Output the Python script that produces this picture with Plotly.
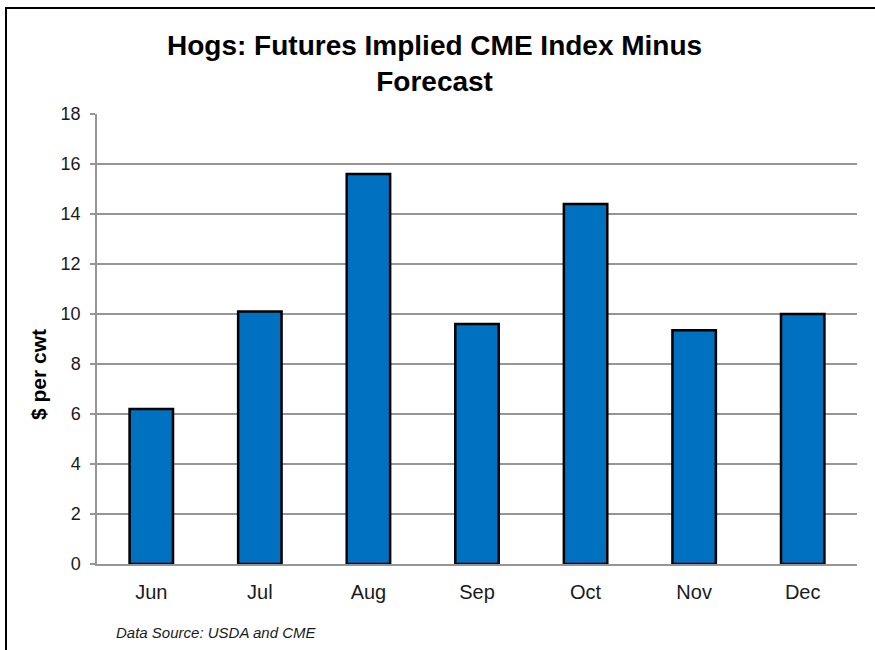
import plotly.graph_objects as go

months = ["Jun", "Jul", "Aug", "Sep", "Oct", "Nov", "Dec"]
values = [6.2, 10.1, 15.6, 9.6, 14.4, 9.35, 10.0]
y_ticks = [0, 2, 4, 6, 8, 10, 12, 14, 16, 18]

W, H = 875, 650
L, R, T, B = 97, 18, 114, 86
pw, ph = W - L - R, H - T - B

def px_x(x):
    return (x - L) / pw

def px_y(y):
    return (H - B - y) / ph

fig = go.Figure()
fig.add_trace(go.Bar(
    x=months, y=values,
    marker=dict(color="#0070C0", line=dict(color="#000000", width=2.5)),
    width=0.4,
))

font_family = "Liberation Sans, Arial, sans-serif"

fig.update_layout(
    width=W, height=H,
    margin=dict(l=L, r=R, t=T, b=B, pad=0),
    paper_bgcolor="white", plot_bgcolor="white",
    showlegend=False,
    font=dict(family=font_family, color="#1a1a1a"),
    xaxis=dict(
        showline=True, linecolor="#969696", linewidth=1.5,
        showgrid=False, ticks="", tickfont=dict(size=20, color="#1a1a1a"),
        ticklabelstandoff=9,
    ),
    yaxis=dict(
        range=[0, 18], tickvals=y_ticks, showgrid=True, gridcolor="#969696", gridwidth=1.5,
        showline=True, linecolor="#969696", linewidth=1.5,
        ticks="outside", ticklen=5, tickcolor="#969696", tickwidth=1.5,
        tickfont=dict(size=18, color="#1a1a1a"), zeroline=False,
        ticklabelstandoff=6,
    ),
    annotations=[
        dict(text="<b>Hogs: Futures Implied CME Index Minus<br>Forecast</b>",
             xref="paper", yref="paper", x=px_x(434), y=px_y(63),
             xanchor="center", yanchor="middle", showarrow=False,
             font=dict(size=28, color="#000000", family=font_family)),
        dict(text="<b>$ per cwt</b>", textangle=-90,
             xref="paper", yref="paper", x=px_x(38), y=px_y(374),
             xanchor="center", yanchor="middle", showarrow=False,
             font=dict(size=21, color="#000000", family=font_family)),
        dict(text="<i>Data Source: USDA and CME</i>",
             xref="paper", yref="paper", x=px_x(114), y=px_y(632),
             xanchor="left", yanchor="middle", showarrow=False,
             font=dict(size=15, color="#1a1a1a", family=font_family)),
    ],
    shapes=[
        dict(type="rect", xref="paper", yref="paper",
             x0=px_x(6), x1=px_x(880), y0=px_y(660), y1=px_y(8),
             line=dict(color="#000000", width=2), fillcolor="rgba(0,0,0,0)", layer="above"),
    ],
)

fig.write_html("out.html")
